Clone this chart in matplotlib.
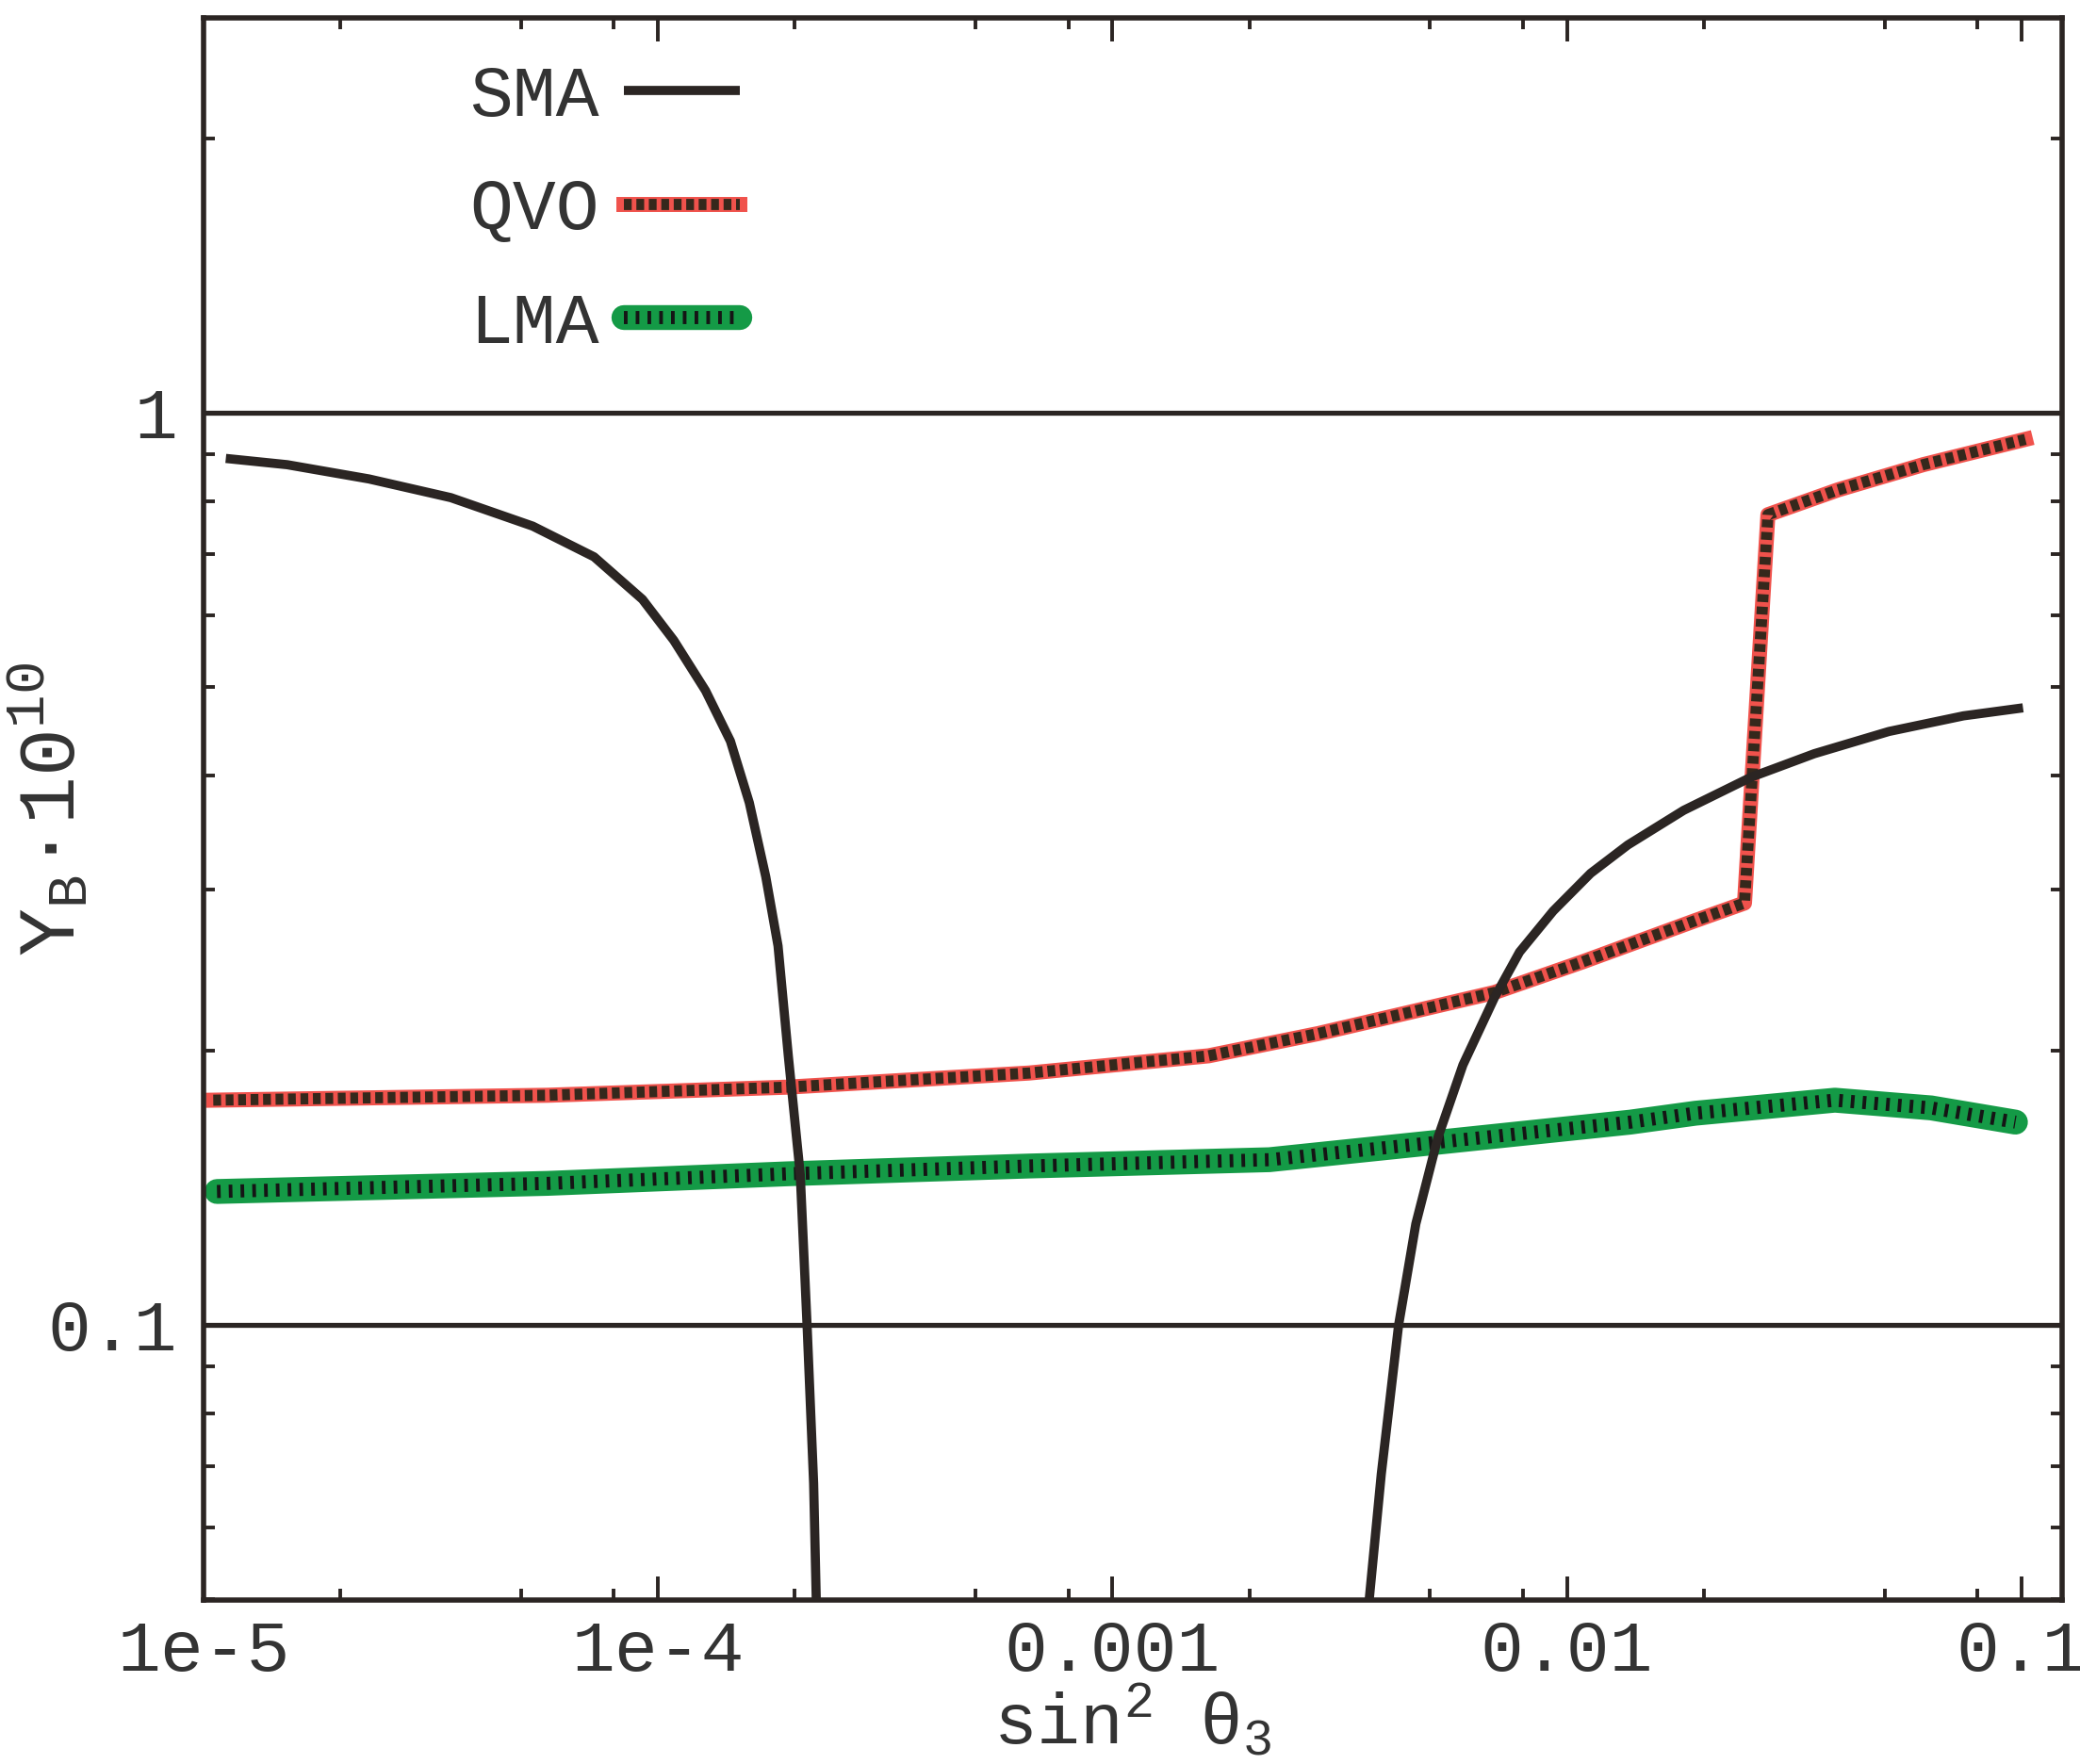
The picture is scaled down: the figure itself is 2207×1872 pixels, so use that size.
import matplotlib
matplotlib.use("Agg")
import matplotlib.pyplot as plt
from matplotlib.ticker import FixedLocator, FixedFormatter, LogLocator, NullFormatter
from matplotlib.legend_handler import HandlerTuple

plt.rcParams['font.family'] = ['Liberation Mono', 'DejaVu Sans']
plt.rcParams['mathtext.default'] = 'regular'

# SMA: two branches that drop below the plot range
sma_left_x = [1.119e-5, 1.527e-5, 2.312e-5, 3.50e-5, 5.30e-5, 7.23e-5, 9.24e-5, 1.083e-4,
              1.272e-4, 1.443e-4, 1.588e-4, 1.726e-4, 1.837e-4, 1.935e-4, 2.056e-4,
              2.13e-4, 2.20e-4, 2.24e-4]
sma_left_y = [0.891, 0.877, 0.846, 0.807, 0.751, 0.695, 0.6243, 0.5629,
              0.4958, 0.4365, 0.3736, 0.310, 0.2602, 0.1972, 0.146,
              0.0988, 0.067, 0.045]
sma_right_x = [3.60e-3, 3.905e-3, 4.263e-3, 4.652e-3, 5.204e-3, 5.906e-3, 6.935e-3,
               7.87e-3, 9.33e-3, 0.01128, 0.01362, 0.01808, 0.02542, 0.03504,
               0.05113, 0.07462, 0.1009]
sma_right_y = [0.045, 0.0686, 0.0999, 0.129, 0.1605, 0.1927, 0.2286,
               0.2563, 0.2842, 0.3126, 0.3358, 0.3665, 0.3984, 0.4228,
               0.4472, 0.4652, 0.4747]

# QVO
qvo_x = [1.05e-5, 5.71e-5, 1.93e-4, 6.55e-4, 1.628e-3, 2.84e-3, 4.58e-3, 6.93e-3,
         0.01083, 0.0192, 0.0246, 0.0277, 0.0395, 0.0608, 0.1021]
qvo_y = [0.1763, 0.1785, 0.1822, 0.1888, 0.1972, 0.2086, 0.2205, 0.2314,
         0.250, 0.2775, 0.290, 0.773, 0.823, 0.877, 0.935]

# LMA
lma_x = [1.07e-5, 5.71e-5, 1.93e-4, 6.55e-4, 2.215e-3, 5.50e-3, 0.0138, 0.0192,
         0.0389, 0.0633, 0.0971]
lma_y = [0.140, 0.1429, 0.1464, 0.1493, 0.1517, 0.159, 0.1668, 0.1706,
         0.1763, 0.1729, 0.1668]

xticks = [1e-5, 1e-4, 1e-3, 1e-2, 1e-1]
xticklabels = ["1e-5", "1e-4", "0.001", "0.01", "0.1"]
yticks = [0.1, 1]
yticklabels = ["0.1", "1"]
ref_levels = [0.1, 1]

ink = "#2b2523"
txt = "#333333"
fs = 55

fig = plt.figure(figsize=(22.07, 18.72), dpi=100)
ax = fig.add_axes([0.0979, 0.0929, 0.8935, 0.897])
ax.set_xscale("log")
ax.set_yscale("log")
ax.set_xlim(1e-5, 0.123)
ax.set_ylim(0.0499, 2.71)

for lev in ref_levels:
    ax.axhline(lev, color=ink, lw=3.8, zorder=1)

sma1, = ax.plot(sma_left_x, sma_left_y, color=ink, lw=7, solid_capstyle="butt",
                solid_joinstyle="round", zorder=4)
ax.plot(sma_right_x, sma_right_y, color=ink, lw=7, solid_capstyle="butt",
        solid_joinstyle="round", zorder=4)

qvo_bg, = ax.plot(qvo_x, qvo_y, color="#f0524c", lw=11.5, solid_joinstyle="round", zorder=2)
qvo_dot, = ax.plot(qvo_x, qvo_y, color="#35281c", lw=8.5, dashes=(0.7, 0.42),
                   dash_capstyle="butt", zorder=3)

lma_bg, = ax.plot(lma_x, lma_y, color="#149a46", lw=19, solid_capstyle="round",
                  solid_joinstyle="round", zorder=2)
lma_dot, = ax.plot(lma_x, lma_y, color="#151515", lw=10, dashes=(0.28, 0.62),
                   dash_capstyle="butt", zorder=3)

# axes frame and ticks
for sp in ax.spines.values():
    sp.set_linewidth(4)
    sp.set_color(ink)
ax.tick_params(which="both", direction="in", top=True, right=True, color=ink)
ax.tick_params(which="major", length=18, width=2.8, pad=14, labelsize=fs, labelcolor=txt)
ax.tick_params(which="minor", length=8.5, width=2.8)
ax.tick_params(axis="y", which="major", pad=20)

ax.xaxis.set_major_locator(FixedLocator(xticks))
ax.xaxis.set_major_formatter(FixedFormatter(xticklabels))
ax.xaxis.set_minor_locator(LogLocator(base=10, subs=(2, 5, 8), numticks=20))
ax.xaxis.set_minor_formatter(NullFormatter())
ax.yaxis.set_major_locator(FixedLocator(yticks))
ax.yaxis.set_major_formatter(FixedFormatter(yticklabels))
ax.yaxis.set_minor_locator(LogLocator(base=10, subs=range(2, 10), numticks=20))
ax.yaxis.set_minor_formatter(NullFormatter())

ax.set_xlabel("sin$^2$ θ$_3$", fontsize=fs, color=txt)
ax.xaxis.set_label_coords(0.5, -0.052)
ax.set_ylabel("Y$_B$·10$^{10}$", fontsize=fs + 6, color=txt)
ax.yaxis.set_label_coords(-0.06, 0.5)

ax.legend([sma1, (qvo_bg, qvo_dot), (lma_bg, lma_dot)], ["SMA", "QVO", "LMA"],
          handler_map={tuple: HandlerTuple(ndivide=1)},
          markerfirst=False, frameon=False, loc="upper left",
          bbox_to_anchor=(0.143, 0.971), borderpad=0, borderaxespad=0,
          handlelength=1.6, handletextpad=0.35, labelspacing=0.65,
          fontsize=fs, labelcolor=txt)

fig.savefig("out.png", dpi=100, facecolor="white")
